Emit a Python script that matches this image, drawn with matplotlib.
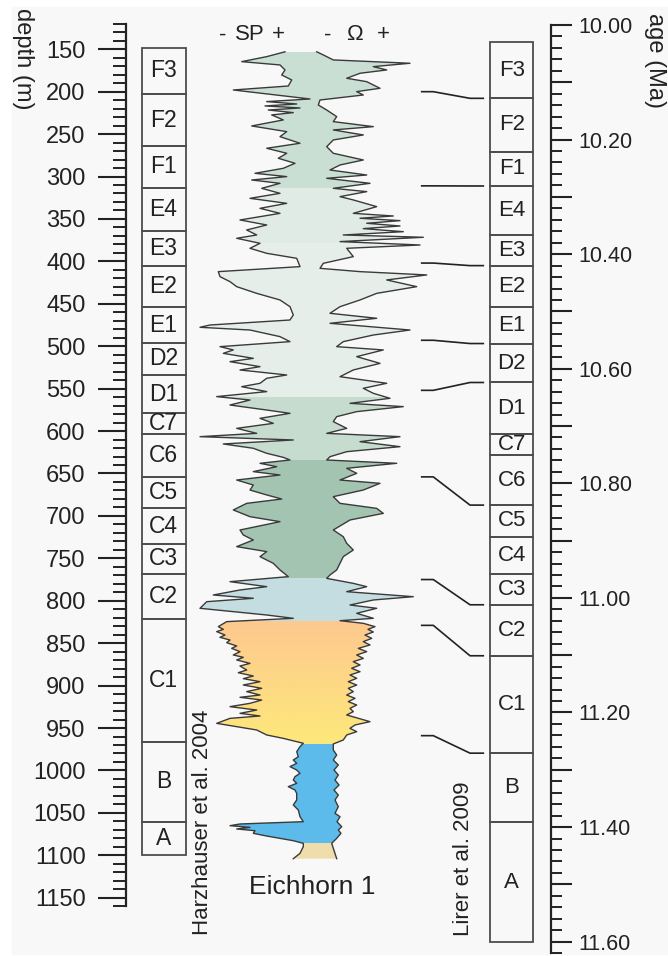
import numpy as np
import matplotlib
matplotlib.use("Agg")
import matplotlib.pyplot as plt
from matplotlib.patches import Rectangle, Polygon
from matplotlib.ticker import MultipleLocator, FixedLocator, FixedFormatter
from matplotlib.colors import LinearSegmentedColormap

plt.rcParams['font.family'] = ['Liberation Sans', 'DejaVu Sans']

# --- zonas Harzhauser et al. 2004 (profundidade, m)
zonas_esq = ["F3", "F2", "F1", "E4", "E3", "E2", "E1", "D2", "D1", "C7",
             "C6", "C5", "C4", "C3", "C2", "C1", "B", "A"]
limites_esq = [148, 203, 264, 313, 364, 405, 454, 496, 534, 579, 604,
               654, 691, 733, 768, 821, 966, 1061, 1100]

# --- zonas Lirer et al. 2009 (idade, Ma)
zonas_dir = ["F3", "F2", "F1", "E4", "E3", "E2", "E1", "D2", "D1", "C7",
             "C6", "C5", "C4", "C3", "C2", "C1", "B", "A"]
limites_dir = [10.030, 10.128, 10.221, 10.281, 10.367, 10.420, 10.492,
               10.556, 10.624, 10.714, 10.751, 10.838, 10.893, 10.958,
               11.012, 11.101, 11.271, 11.392, 11.600]

# --- ligações profundidade -> idade
lig_prof = [200, 311, 402, 493, 552, 654, 775, 829, 959]
lig_idade = [10.128, 10.281, 10.420, 10.556, 10.624, 10.838, 11.012, 11.101, 11.271]

# --- perfil SP (curva esquerda)
sp_prof = [153, 158.7, 164.6, 168.5, 174.4, 180.3, 186.2, 193.3, 198.0, 208.6,
           211.7, 214.5, 216.8, 219.2, 221.6, 224.7, 227.4, 233.3, 240.4, 247.1,
           253.0, 260.8, 266.7, 272.6, 278.5, 284.4, 290.3, 296.2, 300.1, 304.1,
           308.0, 313.9, 319.8, 325.7, 331.6, 337.5, 343.4, 351.2, 357.1, 363.0,
           368.9, 372.8, 378.7, 384.6, 390.5, 396.4, 406.2, 412.1, 418.0, 423.9,
           429.8, 437.7, 445.5, 453.4, 463.2, 469.1, 475.0, 477.7, 480.9, 488.7,
           494.6, 500.5, 504.4, 508.4, 514.3, 518.2, 524.1, 528.0, 533.9, 537.8,
           543.7, 547.7, 553.5, 559.4, 563.4, 569.3, 575.2, 579.1, 585.0, 590.9,
           596.8, 602.7, 606.6, 610.5, 615.2, 620.3, 626.2, 631.0, 634.1, 638.0,
           642.0, 647.8, 651.8, 657.7, 663.6, 669.5, 675.3, 680.1, 685.2, 693.0,
           700.9, 706.8, 716.6, 722.5, 728.4, 736.2, 742.1, 748.0, 755.9, 763.7,
           771.6, 777.5, 783.4, 787.3, 793.2, 797.1, 801.1, 808.9, 816.8, 820.7,
           824.6, 830.5, 833.7, 836.4, 840.4, 843.1, 846.3, 849.4, 853.3, 856.1,
           860.0, 863.9, 866.7, 869.8, 873.8, 876.9, 881.6, 884.8, 888.7, 891.8,
           895.4, 899.3, 903.2, 907.1, 911.1, 913.8, 917.0, 920.9, 924.8, 928.8,
           932.7, 935.8, 938.6, 944.5, 948.4, 952.3, 958.2, 962.2, 968.0,
           972.0, 977.9, 983.8, 987.7, 991.6, 995.5, 999.5, 1003.4, 1007.3, 1011.3,
           1015.2, 1019.1, 1023.1, 1027.0, 1034.8, 1040.7, 1046.6, 1054.5, 1060.4, 1063.1,
           1065.1, 1067.1, 1069.0, 1071.0, 1074.1, 1077.3, 1080.0, 1082.8, 1085.9,
           1089.8, 1097.7, 1104]
sp_val = [85, 66.7, 41.7, 80, 85, 81.7, 91.7, 88.3, 33.3, 110,
          66.7, 96.7, 65, 100, 68.3, 93.3, 71.7, 83.3, 51.7, 86.7,
          80, 100, 66.7, 86.7, 78.3, 95, 83.3, 55, 86.7, 51.7,
          80, 61.7, 80, 50, 86.7, 60, 80, 40, 66.7, 46.7,
          56.7, 36.7, 60, 50, 66.7, 96.7, 100, 18.3, 20, 30,
          36.7, 56.7, 80, 90, 93.3, 90, 10, 0, 50, 80,
          90, 20, 33.3, 23.3, 53.3, 30, 60, 40, 86.7, 66.7,
          60, 41.7, 66.7, 16.7, 50, 30, 66.7, 90, 60, 73.3,
          36.7, 56.7, 0, 93.3, 23.3, 53.3, 66.7, 83.3, 90, 60,
          76.7, 53.3, 80, 36.7, 53.3, 50, 66.7, 81.7, 46.7, 33.3,
          50, 80, 40, 43.3, 53.3, 36.7, 66.7, 60, 73.3, 80,
          88.3, 30, 66.7, 40, 13.3, 53.3, 6.7, 0, 66.7, 93.3,
          26.7, 18.3, 23.3, 16.7, 25, 20, 30, 26.7, 36.7, 31.7,
          40, 33.3, 43.3, 36.7, 50, 40, 46.7, 38.3, 53.3, 43.3,
          60, 43.3, 61.7, 46.7, 60, 40, 61.7, 50, 30, 56.7,
          40, 60, 30, 16.7, 36.7, 56.7, 66.7, 83.3, 103.3,
          100, 96.7, 98.3, 93.3, 96.7, 90, 96.7, 100, 95, 93.3,
          96.7, 88.3, 95, 96.7, 96.7, 93.3, 98.3, 100, 103.3, 40,
          30, 50, 36.7, 55, 53.3, 66.7, 80, 93.3, 103.3,
          103.3, 100, 93.3]

# --- perfil de resistividade (curva direita)
res_prof = [153, 156.7, 162.6, 166.5, 170.5, 174.4, 178.3, 184.2, 188.2, 196.0,
            199.9, 203.9, 209.8, 215.7, 221.6, 229.4, 235.3, 241.2, 245.1, 251.0,
            256.9, 264.8, 272.6, 280.5, 286.4, 292.3, 298.2, 302.1, 308.0, 313.9,
            317.8, 323.7, 327.6, 335.5, 343.4, 346.5, 349.2, 352.0, 355.1, 358.3,
            361.4, 365.0, 368.9, 371.6, 376.7, 380.7, 384.6, 394.4, 402.3, 408.2,
            412.1, 416.0, 421.9, 429.8, 437.7, 445.5, 453.4, 461.2, 467.1, 473.0,
            480.9, 486.8, 494.6, 500.5, 504.4, 512.3, 520.2, 528.0, 535.9, 543.7,
            549.6, 555.5, 561.4, 567.3, 571.2, 577.1, 583.0, 588.9, 596.8, 602.7,
            606.6, 612.5, 618.4, 624.3, 630.2, 634.1, 638.0, 643.9, 649.8, 657.7,
            661.6, 669.5, 677.3, 685.2, 691.1, 697.0, 704.8, 716.6, 724.5, 732.3,
            740.2, 748.0, 755.9, 763.7, 769.6, 773.6, 779.5, 783.4, 789.3, 795.2,
            799.1, 805.0, 808.9, 814.8, 820.7,
            823.5, 826.6, 830.5, 833.7, 836.8, 840.4, 844.3, 848.2, 852.1, 856.1,
            860.0, 863.9, 867.9, 871.8, 875.7, 879.6, 883.6, 887.5, 891.4, 895.4,
            899.3, 903.2, 907.1, 911.1, 915.0, 918.9, 922.9, 926.8, 930.7, 934.6,
            938.6, 942.5, 946.4, 950.4, 954.3, 958.2, 964.1, 968.8,
            975.9, 981.8, 987.7, 993.6, 999.5, 1005.4, 1011.3, 1017.2, 1023.1, 1029.0,
            1034.8, 1042.7, 1050.5, 1054.5, 1060.4, 1066.3, 1070.2, 1074.1, 1080.0, 1085.9,
            1091.8, 1097.7, 1104]
res_val = [116.7, 123.3, 133.3, 210, 173.3, 186.7, 160, 146.7, 166.7, 180,
           156.7, 163.3, 120, 118.3, 126.7, 136.7, 133.3, 173.3, 133.3, 163.3,
           133.3, 126.7, 133.3, 163.3, 140, 130, 166.7, 126.7, 170, 133.3,
           166.7, 140, 153.3, 176.7, 153.3, 193.3, 160, 200, 166.7, 200,
           163.3, 203.3, 143.3, 223.3, 140, 220, 146.7, 153.3, 123.3, 120,
           160, 226.7, 186.7, 216.7, 176.7, 160, 140, 130, 176.7, 130,
           210, 173.3, 143.3, 136.7, 183.3, 156.7, 180, 153.3, 140, 186.7,
           163.3, 173.3, 190, 150, 203.3, 156.7, 136.7, 133.3, 146.7, 126.7,
           200, 160, 200, 146.7, 130, 126.7, 196.7, 146.7, 156.7, 140,
           180, 163.3, 133.3, 140, 176.7, 183.3, 150, 133.3, 143.3, 146.7,
           153.3, 143.3, 140, 136.7, 130, 126.7, 153.3, 166.7, 146.7, 213.3,
           173.3, 150, 176.7, 156.7, 173.3,
           140, 163.3, 175, 168, 173.3, 165, 171.7, 163.3, 170, 158.3,
           166.7, 156.7, 163.3, 153.3, 160, 151.7, 160, 150, 156.7, 148.3,
           156.7, 148.3, 153.3, 146.7, 155, 148.3, 156.7, 150, 153.3, 146.7,
           158.3, 170, 155, 150, 156.7, 146.7, 143.3, 133.3,
           133.3, 136.7, 133.3, 138.3, 134, 138.3, 135, 139, 134, 138.3,
           135, 138.3, 135, 140, 137, 141.7, 138.3, 141, 136.7, 131.7,
           133.3, 135, 136.7]

# --- cores das unidades do perfil (topo, base, cor)
faixa_topo = [153, 313.9, 378.7, 559.4, 634.1, 772.8, 968.8, 1085.9]
faixa_base = [313.9, 378.7, 559.4, 634.1, 772.8, 823.5, 1085.9, 1104]
faixa_cor = ["#cadfd4", "#e1ebe6", "#e5eee9", "#c5dccf", "#a3c4b1",
             "#c3dde0", "#5cbbea", "#efddab"]
grad_topo, grad_base = 823.5, 968.8
grad_cores = ["#fdc98f", "#fde87b"]

W, H = 668, 956
fig = plt.figure(figsize=(W / 100, H / 100), dpi=100, facecolor="white")


def ret(x0, y0, x1, y1):
    # retângulo em pixels (origem no topo) -> fração da figura
    return [x0 / W, 1 - y1 / H, (x1 - x0) / W, (y1 - y0) / H]


fig.patches.append(Rectangle((12 / W, 2 / H), (W - 12) / W, (954 - 7) / H,
                             transform=fig.transFigure, color="#f8f8f8", zorder=-10))

cor_txt = "#222222"
cor_caixa = "#4d4d4d"

# eixo de profundidade
ax_d = fig.add_axes(ret(126, 23.8, 440, 906.2))
ax_d.set_xlim(126, 440)
ax_d.set_ylim(1160, 120)
ax_d.patch.set_visible(False)
for s in ["top", "right", "bottom"]:
    ax_d.spines[s].set_visible(False)
ax_d.spines["left"].set_linewidth(1.6)
ax_d.spines["left"].set_color(cor_txt)
ax_d.xaxis.set_visible(False)
ax_d.yaxis.set_major_locator(MultipleLocator(50))
ax_d.yaxis.set_minor_locator(MultipleLocator(10))
ax_d.tick_params(axis="y", which="major", length=20, width=1.5, pad=9,
                 labelsize=17, colors=cor_txt)
ax_d.tick_params(axis="y", which="minor", length=9.5, width=1.4, colors=cor_txt)

for i, z in enumerate(zonas_esq):
    t, b = limites_esq[i], limites_esq[i + 1]
    ax_d.add_patch(Rectangle((142.3, t), 43.4, b - t, fill=False, ec=cor_caixa, lw=1.3))
    ax_d.text(163.5, (t + b) / 2, z, ha="center", va="center", fontsize=16.5, color=cor_txt)

# perfil
ax_l = fig.add_axes(ret(190, 23.8, 430, 906.2))
ax_l.axis("off")
px = np.concatenate([sp_val, res_val[::-1]])
py = np.concatenate([sp_prof, res_prof[::-1]])
poly = Polygon(np.column_stack([px, py]), closed=True, fc="none", ec="none")
ax_l.add_patch(poly)
for t, b, c in zip(faixa_topo, faixa_base, faixa_cor):
    r = Rectangle((-10, t), 240, b - t, fc=c, ec="none")
    ax_l.add_patch(r)
    r.set_clip_path(poly)
cmap = LinearSegmentedColormap.from_list("laranja", grad_cores)
img = ax_l.imshow(np.linspace(0, 1, 100).reshape(-1, 1), cmap=cmap, aspect="auto",
                  extent=(-10, 230, grad_base, grad_topo), origin="upper")
img.set_clip_path(poly)
ax_l.plot(sp_val, sp_prof, color="#3a3a3a", lw=1.0)
ax_l.plot(res_val, res_prof, color="#3a3a3a", lw=1.0)
ax_l.set_xlim(-10, 230)
ax_l.set_ylim(1160, 120)

# eixo de idade
ax_a = fig.add_axes(ret(420, 25, 550.7, 953.1))
ax_a.set_xlim(420, 550.7)
ax_a.set_ylim(11.62, 10.0)
ax_a.patch.set_visible(False)
for s in ["top", "left", "bottom"]:
    ax_a.spines[s].set_visible(False)
ax_a.spines["right"].set_linewidth(1.6)
ax_a.spines["right"].set_color(cor_txt)
ax_a.xaxis.set_visible(False)
ax_a.yaxis.tick_right()
maj = np.round(10 + np.arange(17) * 0.1, 2)
ax_a.yaxis.set_major_locator(FixedLocator(maj))
ax_a.yaxis.set_major_formatter(FixedFormatter(
    [f"{v:.2f}" if i % 2 == 0 else "" for i, v in enumerate(maj)]))
ax_a.yaxis.set_minor_locator(FixedLocator(np.round(10 + np.arange(82) * 0.02, 2)))
ax_a.tick_params(axis="y", which="major", length=15, width=1.5, pad=5,
                 labelsize=15.5, colors=cor_txt)
ax_a.tick_params(axis="y", which="minor", length=8, width=1.4, colors=cor_txt)

for i, z in enumerate(zonas_dir):
    t, b = limites_dir[i], limites_dir[i + 1]
    ax_a.add_patch(Rectangle((490, t), 43.3, b - t, fill=False, ec=cor_caixa, lw=1.3))
    ax_a.text(511.7, (t + b) / 2, z, ha="center", va="center", fontsize=16, color=cor_txt)

# ligações
for d, a in zip(lig_prof, lig_idade):
    yd = ax_d.transData.transform((200, d))[1]
    ya = ax_a.transData.inverted().transform((0, yd))[1]
    ax_a.plot([421.7, 433.3, 470, 483.3], [ya, ya, a, a], color=cor_txt, lw=1.2,
              clip_on=False)

# textos


def fx(x):
    return x / W


def fy(y):
    return 1 - y / H


fig.text(fx(23), fy(59), "depth (m)", rotation=270, ha="center", va="center",
         fontsize=17, color=cor_txt)
fig.text(fx(655), fy(61), "age (Ma)", rotation=270, ha="center", va="center",
         fontsize=17, color=cor_txt)
for x, s in [(222.5, "-"), (250, "SP"), (278.3, "+"), (327.5, "-"), (355.8, "Ω"), (383.3, "+")]:
    fig.text(fx(x), fy(35), s, ha="center", va="center", fontsize=16, color=cor_txt)
fig.text(fx(312.5), fy(887), "Eichhorn 1", ha="center", va="center", fontsize=19,
         color=cor_txt)
fig.text(fx(202), fy(822), "Harzhauser et al. 2004", rotation=90, ha="center",
         va="center", fontsize=16, color=cor_txt)
fig.text(fx(463), fy(859), "Lirer et al. 2009", rotation=90, ha="center",
         va="center", fontsize=16, color=cor_txt)

fig.savefig("out.png", dpi=100, facecolor=fig.get_facecolor())
